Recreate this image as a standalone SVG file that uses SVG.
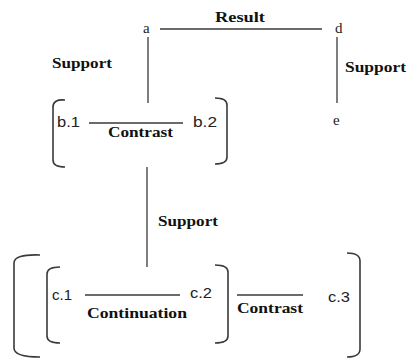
<svg xmlns="http://www.w3.org/2000/svg" width="411" height="360" viewBox="0 0 411 360">
<style>
.ln{stroke:#3a3a3a;stroke-width:1.3;fill:none}
.br{stroke:#3a3a3a;stroke-width:1.6;fill:none}
.lbl{font-family:"Liberation Serif",serif;font-weight:bold;font-size:14px;fill:#111}
.nd{font-family:"Liberation Serif",serif;font-size:15px;fill:#222}
.nds{font-family:"Liberation Sans",sans-serif;font-size:14px;fill:#222}
</style>
<rect width="411" height="360" fill="#fff"/>
<g id="connectors">
<line class="ln" x1="160" y1="29" x2="322" y2="29"/>
<line class="ln" x1="148" y1="37" x2="148" y2="103"/>
<line class="ln" x1="337" y1="37" x2="337" y2="103"/>
<line class="ln" x1="89" y1="123" x2="183" y2="123"/>
<line class="ln" x1="147" y1="167" x2="147" y2="267"/>
<line class="ln" x1="85" y1="295" x2="180" y2="295"/>
<line class="ln" x1="237" y1="295" x2="303" y2="295"/>
</g>
<g id="labels">
<text class="lbl" x="215" y="22" textLength="50" lengthAdjust="spacingAndGlyphs">Result</text>
<text class="lbl" x="52" y="68" textLength="60" lengthAdjust="spacingAndGlyphs">Support</text>
<text class="lbl" x="345" y="72" textLength="61" lengthAdjust="spacingAndGlyphs">Support</text>
<text class="lbl" x="108" y="137" textLength="65" lengthAdjust="spacingAndGlyphs">Contrast</text>
<text class="lbl" x="158" y="226" textLength="60" lengthAdjust="spacingAndGlyphs">Support</text>
<text class="lbl" x="87" y="318" textLength="100" lengthAdjust="spacingAndGlyphs">Continuation</text>
<text class="lbl" x="237" y="313" textLength="66" lengthAdjust="spacingAndGlyphs">Contrast</text>
</g>
<g id="node-a"><text class="nd" x="143" y="33">a</text></g>
<g id="node-d"><text class="nd" x="335" y="33">d</text></g>
<g id="node-e"><text class="nd" x="333" y="125">e</text></g>
<g id="node-b">
<path class="br" d="M65 100 Q53 99 53 107 L53 160 Q53 167 65 167"/>
<path class="br" d="M215 98 Q227 98 227 105 L227 157 Q227 164 215 164"/>
<text class="nds" x="57" y="127" textLength="23" lengthAdjust="spacingAndGlyphs">b.1</text>
<text class="nds" x="193" y="127" textLength="24" lengthAdjust="spacingAndGlyphs">b.2</text>
</g>
<g id="node-c">
<path class="br" d="M40 255 Q14 254 14 263 L14 348 Q14 357 40 357"/>
<path class="br" d="M347 253 Q360 253 360 261 L360 349 Q360 357 347 357"/>
<path class="br" d="M60 267 Q47 267 47 274 L47 336 Q47 343 60 343"/>
<path class="br" d="M215 265 Q228 265 228 272 L228 336 Q228 343 215 343"/>
<text class="nds" x="52" y="300" textLength="20" lengthAdjust="spacingAndGlyphs">c.1</text>
<text class="nds" x="190" y="298" textLength="22" lengthAdjust="spacingAndGlyphs">c.2</text>
<text class="nds" x="328" y="302" textLength="22" lengthAdjust="spacingAndGlyphs">c.3</text>
</g>
</svg>
